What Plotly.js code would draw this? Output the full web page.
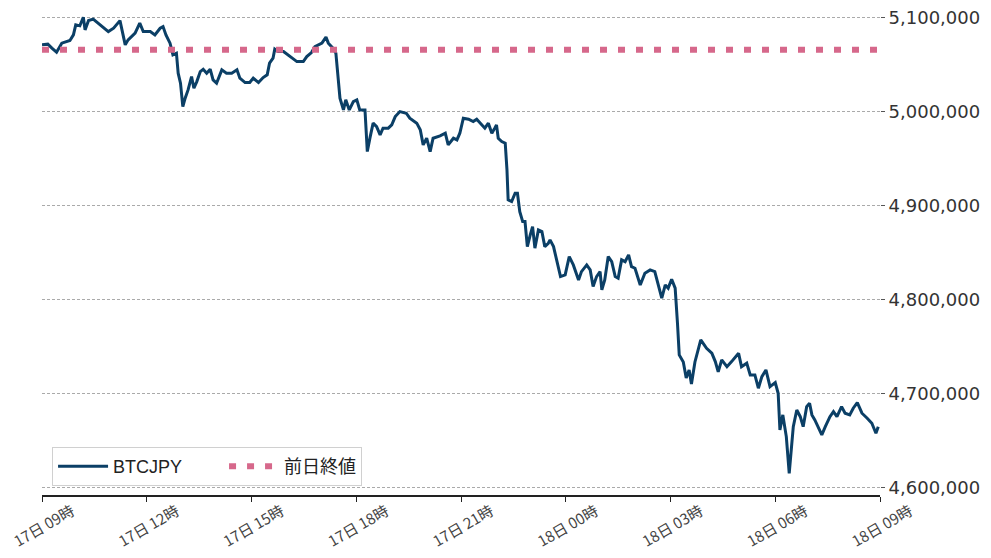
<!DOCTYPE html>
<html>
<head>
<meta charset="utf-8">
<script src="https://cdn.plot.ly/plotly-3.0.1.min.js"></script>
<style>
  html, body { margin: 0; padding: 0; background: #fff; }
  #chart { width: 991px; height: 558px; }
</style>
</head>
<body>
<div id="chart"></div>
<script>
// minutes after 17日 09:00
var minutes = [
  0, 10, 17, 25, 34, 48, 54, 58, 65, 71, 74, 80, 88, 100, 114, 123, 134, 143, 148, 160,
  168, 174, 186, 194, 203, 208, 213, 220, 225, 231, 234, 238, 242, 246, 251, 257, 261, 266, 272, 277,
  283, 289, 294, 300, 309, 317, 326, 335, 340, 349, 357, 363, 372, 380, 387, 391, 397, 400, 406, 415,
  423, 432, 438, 449, 455, 463, 469, 481, 488, 492, 500, 505, 509, 512, 518, 522, 528, 535, 541, 546,
  555, 559, 564, 569, 575, 581, 586, 595, 601, 607, 615, 626, 632, 644, 650, 655, 661, 667, 672, 684,
  693, 698, 707, 713, 718, 724, 733, 741, 747, 756, 761, 767, 773, 778, 781, 784, 790, 796, 799, 801,
  807, 813, 817, 821, 826, 830, 834, 839, 843, 847, 853, 859, 864, 870, 873, 879, 884, 891, 899, 906,
  913, 922, 927, 936, 942, 947, 953, 959, 962, 967, 973, 979, 985, 990, 996, 1002, 1008, 1013, 1019, 1028,
  1036, 1045, 1053, 1057, 1065, 1071, 1076, 1082, 1088, 1092, 1095, 1102, 1107, 1112, 1116, 1122, 1128, 1132, 1142, 1151,
  1157, 1162, 1168, 1177, 1185, 1197, 1202, 1211, 1217, 1225, 1231, 1237, 1244, 1251, 1260, 1265, 1268, 1273, 1279, 1282,
  1284, 1288, 1291, 1297, 1303, 1308, 1314, 1319, 1323, 1328, 1334, 1340, 1346, 1354, 1360, 1366, 1374, 1380, 1388, 1394,
  1401, 1409, 1418, 1426, 1433, 1437
];

var btcjpy = [
  5071300, 5072000, 5067800, 5063500, 5073100, 5075900, 5081900, 5092600, 5091500, 5100700, 5087200, 5097100, 5098600, 5092600, 5085400, 5089000, 5097100, 5071300, 5076600, 5083700,
  5094400, 5085400, 5085400, 5081900, 5089000, 5090700, 5081900, 5073100, 5060600, 5062400, 5041200, 5030500, 5005600, 5014600, 5023400, 5037600, 5025200, 5032200, 5042900, 5045400,
  5041200, 5045400, 5034000, 5030500, 5044700, 5041200, 5041200, 5044700, 5035900, 5031200, 5031200, 5035900, 5031200, 5036500, 5039400, 5051800, 5057100, 5066700, 5064100, 5064100,
  5060600, 5057100, 5053500, 5053500, 5058800, 5063100, 5069500, 5073100, 5079500, 5073100, 5067800, 5062400, 5037600, 5014600, 5002100, 5012800, 5002100, 5011000, 5012800, 5002100,
  5002100, 4957800, 4973700, 4988000, 4984400, 4975500, 4982700, 4982700, 4986200, 4995000, 5000300, 4998600, 4993300, 4988000, 4980900, 4964900, 4972000, 4957800, 4972000, 4974500,
  4977300, 4964900, 4972000, 4970200, 4977300, 4993300, 4992200, 4989700, 4992200, 4986200, 4982700, 4988000, 4977300, 4982700, 4986200, 4972000, 4968400, 4966700, 4938300, 4906400,
  4904600, 4913500, 4913500, 4893900, 4883300, 4883300, 4856700, 4869200, 4877900, 4855000, 4874500, 4872700, 4856700, 4860300, 4863800, 4856700, 4842600, 4824800, 4826600, 4846100,
  4837200, 4821300, 4830100, 4837200, 4831900, 4814200, 4824800, 4830100, 4810600, 4821300, 4846100, 4840700, 4824800, 4823100, 4842600, 4840700, 4847900, 4835400, 4833700, 4815900,
  4828400, 4831900, 4830100, 4821300, 4801800, 4815900, 4812500, 4822000, 4812500, 4775200, 4741500, 4734000, 4717000, 4725500, 4710600, 4734000, 4746800, 4757500, 4748600, 4743300,
  4734400, 4723400, 4736200, 4729000, 4734400, 4743300, 4729000, 4732700, 4720200, 4720200, 4706100, 4718400, 4725500, 4707800, 4712000, 4700700, 4661700, 4677700, 4654600, 4626300,
  4615600, 4643900, 4665200, 4682900, 4675800, 4665200, 4686500, 4690100, 4677700, 4672300, 4665200, 4656400, 4665200, 4675800, 4681200, 4675800, 4686500, 4679500, 4677700, 4684800,
  4690800, 4679500, 4674100, 4668800, 4658200, 4665200
];

var prevClose = 5066000;
var startTime = '2022-01-17 09:00:00';
var endTime = '2022-01-18 09:00:00';

function toTime(m) {
    var d = new Date(Date.UTC(2022, 0, 17, 9, 0) + m * 60000);
    return d.toISOString().slice(0, 19).replace('T', ' ');
}

var times = minutes.map(toTime);

var trace1 = {
    x: times,
    y: btcjpy,
    type: 'scatter',
    mode: 'lines',
    name: 'BTCJPY',
    legendwidth: 106,
    line: { color: '#0b3f66', width: 3 }
};

var trace2 = {
    x: [startTime, endTime],
    y: [prevClose, prevClose],
    type: 'scatter',
    mode: 'lines',
    name: '前日終値',
    line: { color: '#d6688b', width: 6, dash: '7px,11px' }
};

var layout = {
    width: 991,
    height: 558,
    margin: { l: 42, r: 111, t: 0, b: 63 },
    paper_bgcolor: '#fff',
    plot_bgcolor: 'rgba(0,0,0,0)',
    font: { family: '"Noto Sans CJK JP", "Noto Sans", sans-serif', color: '#333' },
    showlegend: true,
    legend: {
        x: 0.012, y: 0.018, xanchor: 'left', yanchor: 'bottom',
        orientation: 'h',
        bgcolor: '#fff',
        bordercolor: '#d0d0d0',
        borderwidth: 1,
        itemwidth: 50,
        font: { family: '"Liberation Sans", "Noto Sans CJK JP", sans-serif', size: 18, color: '#222' }
    },
    xaxis: {
        type: 'date',
        range: [startTime, endTime],
        dtick: 3 * 3600 * 1000,
        tick0: startTime,
        tickformat: '%d日 %H時',
        tickangle: -30,
        ticklabelshift: 30,
        ticklabelstandoff: -5,
        ticklabeloverflow: 'allow',
        tickfont: { size: 15, color: '#444' },
        showgrid: false,
        showline: true,
        linecolor: '#222',
        linewidth: 2,
        ticks: 'outside',
        ticklen: 5,
        tickcolor: '#222',
        zeroline: false
    },
    yaxis: {
        side: 'right',
        range: [4592500, 5119000],
        dtick: 100000,
        tickformat: ',d',
        tickfont: { family: '"DejaVu Sans", sans-serif', size: 18, color: '#333' },
        ticks: 'outside',
        ticklen: 4,
        tickcolor: '#555',
        showgrid: true,
        gridcolor: '#aaaaaa',
        griddash: '3px,2px',
        gridwidth: 1,
        showline: false,
        zeroline: false
    }
};

Plotly.newPlot('chart', [trace1, trace2], layout, { displayModeBar: false, staticPlot: true });
</script>
</body>
</html>
